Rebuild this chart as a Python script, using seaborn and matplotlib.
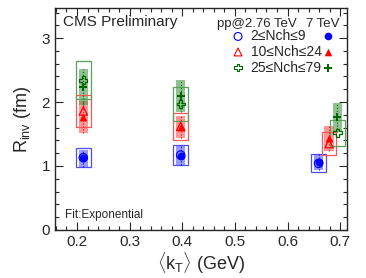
import seaborn as sns
import matplotlib.pyplot as plt
import pandas as pd
from matplotlib.ticker import MultipleLocator

# Rinv vs <kT>, pp 2.76 TeV (open) and 7 TeV (filled)
bins = ['2≤Nch≤9', '10≤Nch≤24', '25≤Nch≤79']
kt = {'2≤Nch≤9': [0.212, 0.397, 0.659],
      '10≤Nch≤24': [0.212, 0.397, 0.679],
      '25≤Nch≤79': [0.212, 0.397, 0.695]}
r276 = {'2≤Nch≤9': [1.13, 1.17, 1.04],
        '10≤Nch≤24': [1.86, 1.62, 1.35],
        '25≤Nch≤79': [2.34, 1.97, 1.52]}
syst276 = {'2≤Nch≤9': [0.15, 0.16, 0.14],
           '10≤Nch≤24': [0.25, 0.21, 0.18],
           '25≤Nch≤79': [0.30, 0.26, 0.20]}
r7 = {'2≤Nch≤9': [1.12, 1.16, 1.06],
      '10≤Nch≤24': [1.76, 1.61, 1.43],
      '25≤Nch≤79': [2.24, 2.09, 1.76]}
syst7 = {'2≤Nch≤9': [0.13, 0.15, 0.13],
         '10≤Nch≤24': [0.25, 0.17, 0.2],
         '25≤Nch≤79': [0.28, 0.25, 0.23]}

colors = {'2≤Nch≤9': '#0000ff', '10≤Nch≤24': '#ff0000', '25≤Nch≤79': '#006400'}
box_colors = {'2≤Nch≤9': '#4d4dff', '10≤Nch≤24': '#ff5555', '25≤Nch≤79': '#5aa05a'}
band_colors = {'2≤Nch≤9': '#5555ff', '10≤Nch≤24': '#ff5555', '25≤Nch≤79': '#4a9a4a'}
markers = {'2≤Nch≤9': 'o', '10≤Nch≤24': '^', '25≤Nch≤79': 'P'}

rows = []
for b in bins:
    for i in range(3):
        rows.append({'bin': b, 'kt': kt[b][i], 'r276': r276[b][i], 's276': syst276[b][i],
                     'r7': r7[b][i], 's7': syst7[b][i]})
df = pd.DataFrame(rows)

sns.set_style('ticks')
plt.rcParams['font.family'] = ['Liberation Sans', 'DejaVu Sans']
plt.rcParams['mathtext.fontset'] = 'custom'
plt.rcParams['mathtext.rm'] = 'Liberation Sans'
plt.rcParams['mathtext.it'] = 'Liberation Sans'

fig = plt.figure(figsize=(3.66, 2.78), dpi=100)
ax = fig.add_axes([0.150, 0.173, 0.798, 0.798])

for b in bins:
    d = df[df['bin'] == b]
    # 7 TeV systematic band (filled)
    ax.bar(d['kt'], 2 * d['s7'], bottom=d['r7'] - d['s7'], width=0.018,
           color=band_colors[b], alpha=0.6, linewidth=0, zorder=1)
    # 2.76 TeV systematic box (open)
    ax.bar(d['kt'], 2 * d['s276'], bottom=d['r276'] - d['s276'], width=0.028,
           facecolor='none', edgecolor=box_colors[b], linewidth=0.9, zorder=2)
    ax.vlines(d['kt'], d['r7'] - d['s7'], d['r7'] + d['s7'], colors=colors[b],
              linestyles=':', linewidth=0.8, zorder=3)
    sns.scatterplot(x=d['kt'], y=d['r276'], marker=markers[b], s=36,
                    facecolor='none', edgecolor=colors[b], linewidth=0.9, ax=ax, zorder=4)
    sns.scatterplot(x=d['kt'], y=d['r7'], marker=markers[b], s=32,
                    color=colors[b], edgecolor=colors[b], linewidth=0, ax=ax, zorder=5)

ax.set_xlim(0.158, 0.713)
ax.set_ylim(0, 3.47)
ax.xaxis.set_major_locator(MultipleLocator(0.1))
ax.xaxis.set_minor_locator(MultipleLocator(0.02))
ax.yaxis.set_major_locator(MultipleLocator(1))
ax.yaxis.set_minor_locator(MultipleLocator(0.2))
ax.tick_params(which='both', direction='in', top=True, right=True, labelsize=11, width=0.8)
ax.tick_params(which='major', length=6)
ax.tick_params(which='minor', length=3)
for s in ax.spines.values():
    s.set_linewidth(1.0)

ax.set_xlabel(r'$\langle$k$_{\mathregular{T}}\rangle$ (GeV)', fontsize=13, labelpad=1)
ax.set_ylabel(r'R$_{\mathregular{inv}}$ (fm)', fontsize=13, labelpad=6)

ax.text(0.028, 0.935, 'CMS Preliminary', transform=ax.transAxes, fontsize=11, va='center')
ax.text(0.035, 0.04, 'Fit:Exponential', transform=ax.transAxes, fontsize=8.5, va='bottom')

# legend drawn by hand
ax.text(0.555, 0.93, 'pp@2.76 TeV', transform=ax.transAxes, fontsize=9.5, va='center')
ax.text(0.86, 0.93, '7 TeV', transform=ax.transAxes, fontsize=9.5, va='center')
for i, b in enumerate(bins):
    yy = 0.872 - i * 0.07
    ax.scatter([0.627], [yy], marker=markers[b], s=32, facecolor='none',
               edgecolor=colors[b], linewidth=0.8, transform=ax.transAxes, clip_on=False)
    ax.scatter([0.935], [yy], marker=markers[b], s=30, color=colors[b],
               linewidth=0, transform=ax.transAxes, clip_on=False)
    ax.text(0.67, yy, b, transform=ax.transAxes, fontsize=10, va='center')

fig.savefig('out.png', dpi=100)
